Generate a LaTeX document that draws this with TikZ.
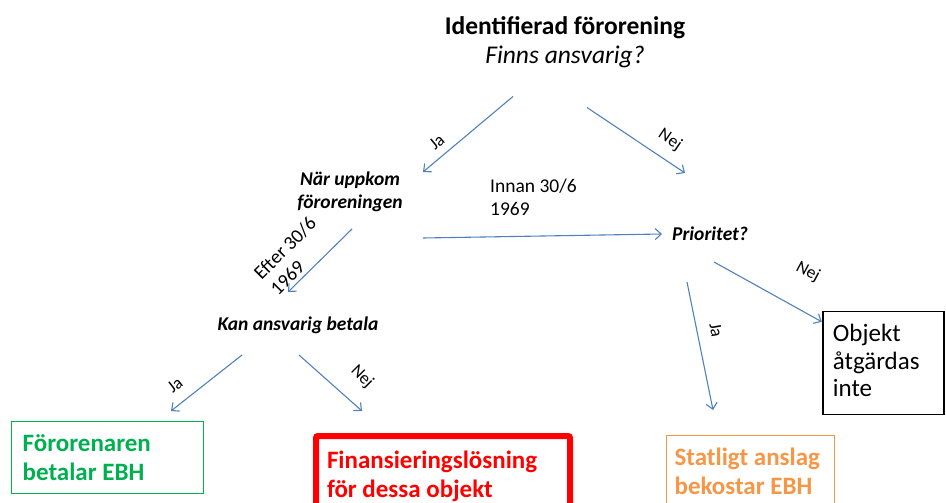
\documentclass[tikz,border=0pt]{standalone}
\usepackage{fontspec}
\setmainfont{Carlito}
\usetikzlibrary{arrows.meta,positioning}

\definecolor{pilblue}{HTML}{4F81BD}
\definecolor{ebhgreen}{HTML}{00B050}
\definecolor{ebhred}{HTML}{FF0000}
\definecolor{ebhorange}{HTML}{F79646}

\begin{document}
\begin{tikzpicture}[
  x=1pt, y=-1pt,
  >={Straight Barb[length=6pt,width=11pt]},
  every node/.append style={execute at begin node={\spaceskip=0pt\xspaceskip=0pt\relax}},
  pil/.style={->, draw=pilblue, line width=1.1pt},
  fraga/.style={font=\fontsize{19.5}{23}\selectfont\bfseries\itshape, inner sep=0pt},
  datum/.style={font=\fontsize{19.5}{23}\selectfont, inner sep=0pt, align=left},
  svar/.style={font=\fontsize{17.5}{20}\selectfont, inner sep=0pt},
  ruta/.style={rectangle, anchor=north west, align=left, line width=1.2pt},
  utfall/.style={ruta, font=\fontsize{25}{29}\selectfont\bfseries, inner ysep=11pt, text depth=60pt}
]
\useasboundingbox (0,0) rectangle (946,503);

\node[align=center, inner sep=0pt, font=\fontsize{25.5}{29}\selectfont] (fynd) at (565,42.5)
  {\textbf{Identifierad förorening}\\\textit{Finns ansvarig?}};

\node[fraga, align=center] (naer) at (350,191.5) {När uppkom\\föroreningen};
\node[datum, anchor=west] (innan) at (490,197) {Innan 30/6\\1969};
\node[fraga, anchor=base west] (prio) at (672,240) {Prioritet?};
\node[fraga, anchor=base] (kan) at (298,330) {Kan ansvarig betala};

\node[ruta, draw=black, font=\fontsize{25}{27.6}\selectfont,
  text width=101pt, inner xsep=10pt, inner ysep=10pt, text height=20pt, text depth=63pt]
  (objekt) at (822.3,310.8) {Objekt\\åtgärdas\\inte};

\node[utfall, draw, color=ebhgreen, line width=1.4pt, text width=170pt, inner xsep=11pt,
  inner ysep=11.5pt, text height=18pt, text depth=31pt] (foro) at (11,421) {Förorenaren\\betalar EBH};
\node[utfall, draw, color=ebhred, line width=6pt, rounded corners=2pt, text width=232pt,
  inner xsep=11pt, text height=21pt] (finans) at (313,433) {Finansieringslösning\\för dessa objekt};
\node[utfall, draw, color=ebhorange, text width=152pt, inner xsep=8pt,
  text height=19pt] (statligt) at (666,435) {Statligt anslag\\bekostar EBH};

\node[svar, rotate=40] (ja1) at (437,142) {Ja};
\node[svar, rotate=-34] (nej1) at (670,140) {Nej};
\node[datum, rotate=45] (efter) at (293,256) {Efter 30/6\\1969};
\node[svar, rotate=38] (ja2) at (175,385) {Ja};
\node[svar, rotate=-45] (nej2) at (362,377) {Nej};
\node[svar, rotate=-80] (ja3) at (716,330) {Ja};
\node[svar, rotate=-28] (nej3) at (808,272) {Nej};

\draw[pil] ([shift={(-52,54)}]fynd.center) -- ([shift={(73,-19.5)}]naer.center);
\draw[pil] ([shift={(22,65)}]fynd.center) -- ([shift={(13,-67)}]prio.base west);
\draw[pil] ([shift={(73,46.5)}]naer.center) -- ([shift={(-10,-6)}]prio.base west);
\draw[pil] ([shift={(2,37.5)}]naer.center) -- ([shift={(-10,-38)}]kan.base);
\draw[pil] ([shift={(-56,25)}]kan.base) -- ([shift={(160,-10)}]foro.north west);
\draw[pil] ([shift={(1,25)}]kan.base) -- ([shift={(49,-22)}]finans.north west);
\draw[pil] ([shift={(15,42)}]prio.base west) -- ([shift={(47,-25)}]statligt.north west);
\draw[pil] ([shift={(42,22)}]prio.base west) -- ([shift={(-0.5,11)}]objekt.north west);
\end{tikzpicture}
\end{document}
